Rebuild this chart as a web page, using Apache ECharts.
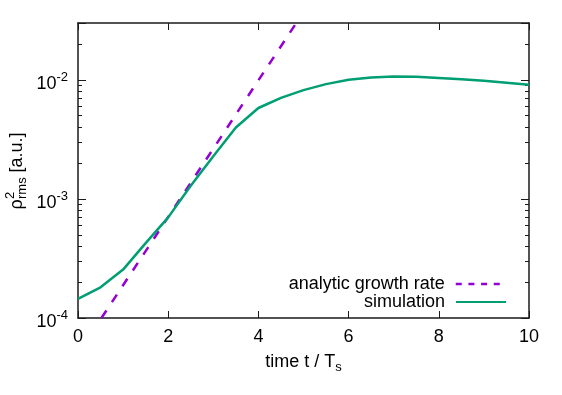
<!DOCTYPE html>
<html>
<head>
<meta charset="utf-8">
<title>rho_rms growth</title>
<script src="https://cdn.jsdelivr.net/npm/echarts@6/dist/echarts.min.js"></script>
<style>
  html, body { margin: 0; padding: 0; background: #fff; }
  #chart { width: 562px; height: 395px; }
</style>
</head>
<body>
<div id="chart"></div>
<script>
// ---------------- data ----------------
const simTimes = [0, 0.5, 1, 1.5, 2, 2.5, 3, 3.5, 4, 4.5, 5, 5.5, 6, 6.5, 7, 7.5, 8, 8.5, 9, 9.5, 10]
const simValues = [
  1.45e-4, 1.81e-4, 2.55e-4, 4.25e-4, 7.0e-4, 1.29e-3, 2.28e-3, 3.98e-3, 5.8e-3, 7.05e-3,
  8.2e-3, 9.2e-3, 1.0e-2, 1.045e-2, 1.065e-2, 1.06e-2, 1.035e-2, 1.01e-2, 9.8e-3, 9.45e-3, 9.1e-3
]
// straight line on the log scale (exponential growth), from where it enters to where it leaves the frame
const analyticTimes = [0.52, 4.84]
const analyticValues = [1e-4, 0.03]

const xRange = [0, 10]
const xStep = 2
const yRange = [1e-4, 0.03]
const yMajorTicks = [1e-4, 1e-3, 1e-2]
const yExponents = ['-4', '-3', '-2']
const yMinorTicks = [
  2e-4, 3e-4, 4e-4, 5e-4, 6e-4, 7e-4, 8e-4, 9e-4,
  2e-3, 3e-3, 4e-3, 5e-3, 6e-3, 7e-3, 8e-3, 9e-3,
  2e-2, 3e-2
]

// ---------------- style ----------------
const FONT = "'Liberation Sans', Arial, sans-serif"
const colors = {
  analytic: '#9400D3',
  sim: '#009E73',
  frame: '#1a1a1a',
  text: '#000'
}
const dash = [9, 10]
// the legend icon stretches its dash pattern, so give it a shorter one
const legendDash = dash.map(v => v / 1.5)

const zip = (xs, ys) => xs.map((x, i) => [x, ys[i]])
const log10 = v => Math.log10(v)

const frameLine = { show: true, onZero: false, lineStyle: { color: colors.frame, width: 1.5 } }
const tickStyle = { color: colors.frame, width: 1 }

// major y label: 10^n
const yLabelFormatter = v => {
  const i = yMajorTicks.findIndex(t => Math.abs(log10(t) - log10(v)) < 1e-6)
  return i < 0 ? '' : '{b|10}{sup|' + yExponents[i] + '}'
}

const legendBase = {
  right: 50, align: 'right', orient: 'vertical',
  itemWidth: 50, itemHeight: 18, selectedMode: false,
  itemStyle: { opacity: 0 },
  textStyle: { fontSize: 18, color: colors.text, fontFamily: FONT, padding: [0, 6, 0, 0] }
}

const chart = echarts.init(document.getElementById('chart'), null, { renderer: 'canvas' })

chart.setOption({
  animation: false,
  backgroundColor: '#fff',
  textStyle: { fontFamily: FONT },
  grid: { left: 78, right: 33, top: 23, bottom: 77, containLabel: false },
  legend: [
    Object.assign({}, legendBase, {
      data: ['analytic growth rate'], top: 270,
      lineStyle: { type: legendDash, width: 2.5, dashOffset: 0 }
    }),
    Object.assign({}, legendBase, { data: ['simulation'], top: 288 })
  ],
  xAxis: [
    {
      type: 'value', min: xRange[0], max: xRange[1], interval: xStep,
      axisLine: frameLine,
      axisTick: { show: true, inside: true, length: 7, lineStyle: tickStyle },
      axisLabel: { fontSize: 18, color: colors.text, margin: 10, fontFamily: FONT },
      splitLine: { show: false },
      name: '{b|time t / T}{sub|s}',
      nameLocation: 'middle',
      nameGap: 32,
      nameTextStyle: {
        fontFamily: FONT, color: colors.text,
        rich: {
          b: { fontSize: 18, lineHeight: 24, fontFamily: FONT, color: colors.text },
          sub: { fontSize: 13, lineHeight: 4, verticalAlign: 'bottom', fontFamily: FONT, color: colors.text }
        }
      }
    },
    {
      type: 'value', position: 'top', min: xRange[0], max: xRange[1], interval: xStep,
      axisLine: frameLine,
      axisTick: { show: true, inside: true, length: 7, lineStyle: tickStyle },
      axisLabel: { show: false },
      splitLine: { show: false }
    }
  ],
  yAxis: [
    {
      type: 'log', logBase: 10, position: 'left', min: yRange[0], max: yRange[1],
      axisLine: frameLine,
      axisTick: { show: true, inside: true, length: 8, lineStyle: tickStyle },
      axisLabel: {
        margin: 10, formatter: yLabelFormatter, padding: [8, 0, 0, 0],
        rich: {
          b: { fontSize: 18, lineHeight: 26, fontFamily: FONT, color: colors.text },
          sup: { fontSize: 13, lineHeight: 8, verticalAlign: 'top', fontFamily: FONT, color: colors.text }
        }
      },
      splitLine: { show: false }
    },
    {
      type: 'log', logBase: 10, position: 'right', min: yRange[0], max: yRange[1],
      axisLine: frameLine,
      axisTick: { show: true, inside: true, length: 8, lineStyle: tickStyle },
      axisLabel: { show: false },
      splitLine: { show: false }
    },
    // minor ticks: value axes in log10 space, only the ticks drawn
    {
      type: 'value', position: 'left', min: log10(yRange[0]), max: log10(yRange[1]),
      axisLine: { show: false, onZero: false },
      axisTick: { show: true, inside: true, length: 4, customValues: yMinorTicks.map(log10), lineStyle: tickStyle },
      axisLabel: { show: false },
      splitLine: { show: false }
    },
    {
      type: 'value', position: 'right', min: log10(yRange[0]), max: log10(yRange[1]),
      axisLine: { show: false, onZero: false },
      axisTick: { show: true, inside: true, length: 4, customValues: yMinorTicks.map(log10), lineStyle: tickStyle },
      axisLabel: { show: false },
      splitLine: { show: false }
    }
  ],
  graphic: [
    {
      // rotated y label  rho^2_rms [a.u.]
      type: 'group', x: 17, y: 171, rotation: Math.PI / 2,
      children: [
        { type: 'text', x: -38.5, y: 0, style: { text: 'ρ', fontSize: 18, fontFamily: FONT, fill: colors.text, align: 'left', verticalAlign: 'middle' } },
        { type: 'text', x: -28, y: -7, style: { text: '2', fontSize: 13, fontFamily: FONT, fill: colors.text, align: 'left', verticalAlign: 'middle' } },
        { type: 'text', x: -28, y: 5, style: { text: 'rms', fontSize: 13, fontFamily: FONT, fill: colors.text, align: 'left', verticalAlign: 'middle' } },
        { type: 'text', x: -1.5, y: 0, style: { text: '[a.u.]', fontSize: 18, fontFamily: FONT, fill: colors.text, align: 'left', verticalAlign: 'middle' } }
      ]
    }
  ],
  series: [
    {
      name: 'analytic growth rate',
      type: 'line',
      xAxisIndex: 0, yAxisIndex: 0,
      data: zip(analyticTimes, analyticValues),
      symbol: 'none',
      clip: true,
      lineStyle: { color: colors.analytic, width: 2.5, type: dash },
      itemStyle: { color: colors.analytic }
    },
    {
      name: 'simulation',
      type: 'line',
      xAxisIndex: 0, yAxisIndex: 0,
      data: zip(simTimes, simValues),
      symbol: 'none',
      clip: true,
      lineStyle: { color: colors.sim, width: 2.5 },
      itemStyle: { color: colors.sim }
    }
  ]
})
</script>
</body>
</html>
